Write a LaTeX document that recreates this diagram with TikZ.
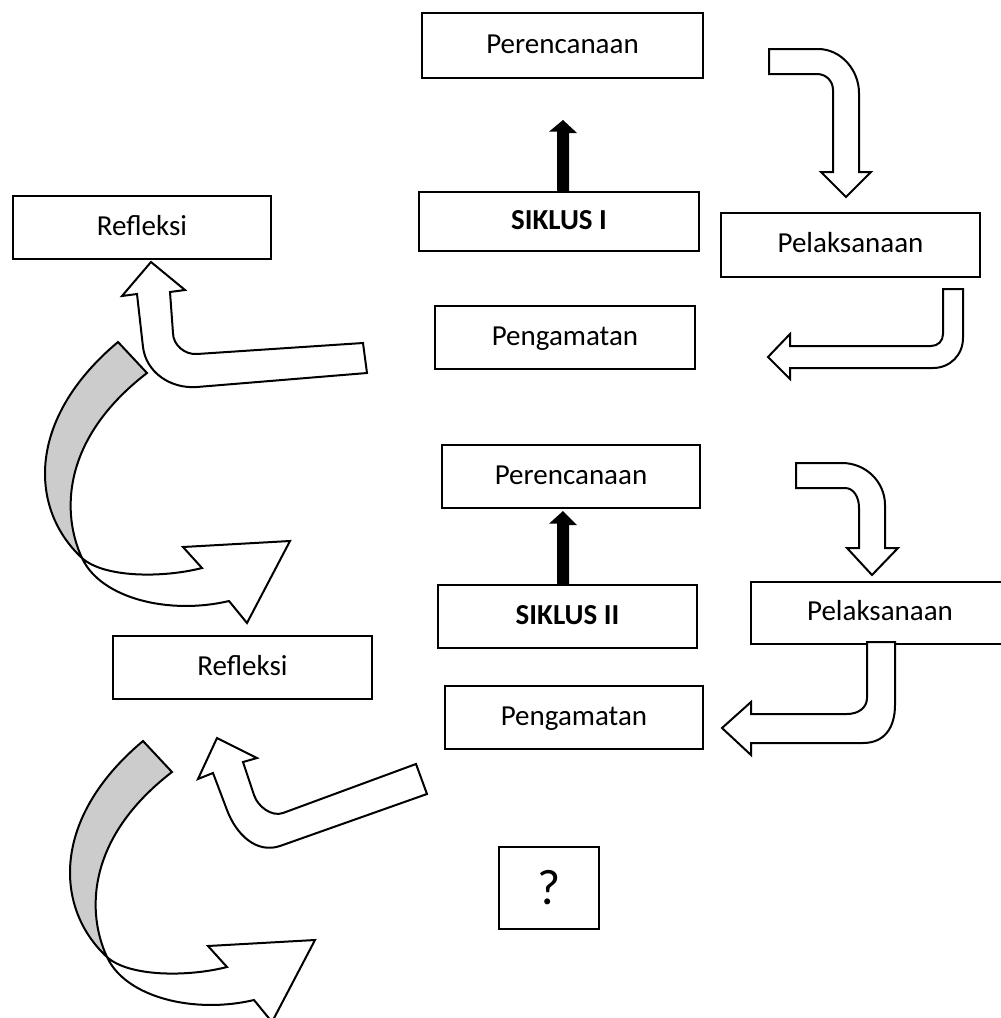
\documentclass[tikz,border=0pt]{standalone}
\usepackage{fontspec}
\setmainfont{Carlito}
\begin{document}
\begin{tikzpicture}[x=1pt,y=-1pt,
  box/.style={draw, line width=2.6pt, fill=white, inner sep=0pt,
    text height=19pt, text depth=4pt, font=\fontsize{29}{35}\selectfont},
  blockarrow/.style={draw, fill=white, line width=2pt, line join=miter, miter limit=10},
  twistgrey/.style={draw, fill=gray!40, line width=2pt, line join=miter, miter limit=10},
  fatarrow/.style={fill=black}
]
\useasboundingbox (0,0) rectangle (1001,1018);

% boxes
\node[box, minimum width=281pt, minimum height=65pt] (per1) at (562.5,45.5) {Perencanaan};
\node[box, minimum width=280pt, minimum height=59pt] (sik1) at (559,221.5) {\bfseries SIKLUS I};
\node[box, minimum width=258pt, minimum height=63pt] (ref1) at (142,227.5) {Refleksi};
\node[box, minimum width=259pt, minimum height=64pt] (pel1) at (850.5,245) {Pelaksanaan};
\node[box, minimum width=260pt, minimum height=63pt] (pen1) at (565,337.5) {Pengamatan};
\node[box, minimum width=258pt, minimum height=63pt] (per2) at (571,476.5) {Perencanaan};
\node[box, minimum width=259pt, minimum height=63pt] (sik2) at (567.5,616.5) {\bfseries SIKLUS II};
\node[box, minimum width=258pt, minimum height=62pt] (pel2) at (880,613) {Pelaksanaan};
\node[box, minimum width=259pt, minimum height=63pt] (ref2) at (242.5,667.5) {Refleksi};
\node[box, minimum width=258pt, minimum height=63pt] (pen2) at (574,717.5) {Pengamatan};
\node[box, minimum width=100pt, minimum height=82pt, font=\fontsize{50}{60}\selectfont,
      text height=33pt, text depth=0pt] (q) at (549,888) {?};

% black arrows SIKLUS -> Perencanaan
\coordinate (t1) at (563,120);
\coordinate (t2) at (563,511);
\fill[fatarrow] (sik1.north -| t1) ++(-6,0) -- ++(0,-59) -- ++(-8,0) -- (t1) -- ++(14,13) -- ++(-8,0) -- ++(0,59) -- cycle;
\fill[fatarrow] (sik2.north -| t2) ++(-6,0) -- ++(0,-60) -- ++(-8,0) -- (t2) -- ++(14,14) -- ++(-8,0) -- ++(0,60) -- cycle;

% cycle I bent arrows
\filldraw[blockarrow] (769,49) -- (818,49) .. controls (841,49) and (859,70) .. (859,93) -- (859,172) -- (871,172) -- (846,197) -- (821,172) -- (833,172) -- (833,90) .. controls (833,81) and (826,74) .. (817,74) -- (769,74) -- cycle;
\filldraw[blockarrow] (943,289) -- (963,289) -- (963,338) .. controls (963,355) and (950,368) .. (933,368) -- (790,368) -- (790,379) -- (768,357) -- (790,334) -- (790,346) -- (931,346) .. controls (938,346) and (943,341) .. (943,334) -- cycle;
\filldraw[blockarrow] (151,262) -- (185,290) -- (170,292) -- (173,333) .. controls (173,345) and (185,355) .. (197,354) -- (363,343) -- (367,373) -- (197,387) .. controls (170,389) and (146,372) .. (143,347) -- (137,294) -- (122,296) -- cycle;

% cycle II bent arrows
\filldraw[blockarrow] (796,463) -- (842,463) .. controls (866,463) and (885,482) .. (885,505) -- (885,548) -- (898,548) -- (872,575) -- (847,548) -- (859,548) -- (859,508) .. controls (859,496) and (853,488) .. (845,488) -- (796,488) -- cycle;
\filldraw[blockarrow] (867,642) -- (895,642) -- (895,705) .. controls (895,727) and (885,743) .. (863,743) -- (751,743) -- (751,755) -- (722,728) -- (751,702) -- (751,714) -- (847,714) .. controls (858,714) and (867,708) .. (867,698) -- cycle;
\filldraw[blockarrow] (217,738) -- (257,758) -- (243,762) -- (254,795) .. controls (258,807) and (272,817) .. (283,813) -- (416,764) -- (427,794) -- (280,846) .. controls (256,854) and (236,834) .. (227,810) -- (213,773) -- (198,779) -- cycle;

% twisted curved arrows
\foreach \dx/\dy in {0/0, 25/399}{
\begin{scope}[shift={(\dx,\dy)}]
\filldraw[twistgrey] (118,342) .. controls (25,420) and (30,510) .. (82,558) .. controls (62,515) and (60,440) .. (147,373) -- cycle;
\filldraw[blockarrow] (82,558) .. controls (104,578) and (163,578) .. (202,568) -- (183,547) -- (290,541) -- (247,623) -- (229,601) .. controls (170,615) and (101,599) .. (82,558) -- cycle;
\end{scope}
}
\end{tikzpicture}
\end{document}
